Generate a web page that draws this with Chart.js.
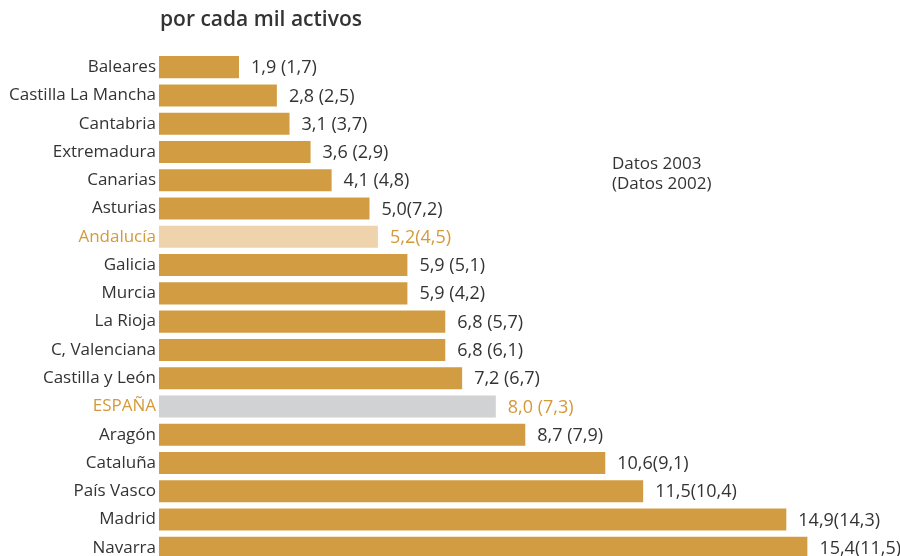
<!DOCTYPE html>
<html lang="es">
<head>
<meta charset="utf-8">
<title>por cada mil activos</title>
<script src="https://cdn.jsdelivr.net/npm/chart.js@4/dist/chart.umd.min.js"></script>
<style>
  html, body { margin: 0; padding: 0; background: #ffffff; overflow: hidden; }
  #wrap { position: relative; width: 900px; height: 562px; }
</style>
</head>
<body>
<div id="wrap"><canvas id="chart" width="900" height="562"></canvas></div>
<script>
// Regiones ordenadas de menor a mayor
const regiones = [
  "Baleares", "Castilla La Mancha", "Cantabria", "Extremadura", "Canarias",
  "Asturias", "Andalucía", "Galicia", "Murcia", "La Rioja", "C, Valenciana",
  "Castilla y León", "ESPAÑA", "Aragón", "Cataluña", "País Vasco", "Madrid", "Navarra"
];
// Datos 2003
const datos2003 = [1.9, 2.8, 3.1, 3.6, 4.1, 5.0, 5.2, 5.9, 5.9, 6.8, 6.8, 7.2, 8.0, 8.7, 10.6, 11.5, 14.9, 15.4];
// Datos 2002 (entre paréntesis)
const datos2002 = [1.7, 2.5, 3.7, 2.9, 4.8, 7.2, 4.5, 5.1, 4.2, 5.7, 6.1, 6.7, 7.3, 7.9, 9.1, 10.4, 14.3, 11.5];
// Etiquetas de valor tal como se imprimen
const etiquetas = [
  "1,9 (1,7)", "2,8 (2,5)", "3,1 (3,7)", "3,6 (2,9)", "4,1 (4,8)", "5,0(7,2)",
  "5,2(4,5)", "5,9 (5,1)", "5,9 (4,2)", "6,8 (5,7)", "6,8 (6,1)", "7,2 (6,7)",
  "8,0 (7,3)", "8,7 (7,9)", "10,6(9,1)", "11,5(10,4)", "14,9(14,3)", "15,4(11,5)"
];
const titulo = "por cada mil activos";
const leyenda = ["Datos 2003", "(Datos 2002)"];

const ORO = "#D29D42";
const ORO_TEXTO = "#D39A3A";
const ORO_CLARO = "#EFD3AC";
const GRIS = "#D1D2D4";
const TEXTO = "#333333";
const FUENTE = "'Open Sans', 'Noto Sans', sans-serif";

function colorBarra(i) {
  if (regiones[i] === "Andalucía") return ORO_CLARO;
  if (regiones[i] === "ESPAÑA") return GRIS;
  return ORO;
}
function colorTexto(i) {
  if (regiones[i] === "Andalucía" || regiones[i] === "ESPAÑA") return ORO_TEXTO;
  return TEXTO;
}

// Título, nota de años y etiquetas de valor
const anotaciones = {
  id: "anotaciones",
  afterDatasetsDraw(chart) {
    const ctx = chart.ctx;
    const area = chart.chartArea;
    ctx.save();
    ctx.textBaseline = "middle";
    ctx.textAlign = "left";

    ctx.fillStyle = TEXTO;
    ctx.font = "600 21px " + FUENTE;
    ctx.fillText(titulo, area.left + 1, 20);

    ctx.font = "17px " + FUENTE;
    ctx.fillText(leyenda[0], 612, 164);
    ctx.fillText(leyenda[1], 612, 184);

    ctx.font = "18px " + FUENTE;
    const meta = chart.getDatasetMeta(0);
    meta.data.forEach((bar, i) => {
      ctx.fillStyle = colorTexto(i);
      ctx.fillText(etiquetas[i], bar.x + 12, bar.y + 1);
    });
    ctx.restore();
  }
};

new Chart(document.getElementById("chart"), {
  type: "bar",
  data: {
    labels: regiones,
    datasets: [{
      label: "Datos 2003",
      data: datos2003,
      backgroundColor: regiones.map((_, i) => colorBarra(i)),
      borderWidth: 0,
      categoryPercentage: 1,
      barPercentage: 0.78
    }]
  },
  options: {
    indexAxis: "y",
    responsive: false,
    animation: false,
    layout: { padding: { top: 53, right: 0, bottom: 0, left: 0 } },
    plugins: {
      legend: { display: false },
      title: { display: false },
      tooltip: { enabled: false }
    },
    scales: {
      x: { display: false, min: 0, max: 17.6 },
      y: {
        grid: { display: false, drawTicks: false },
        border: { display: false },
        afterFit(scale) {
          scale.width = 159;
          scale.paddingTop = 0;
          scale.paddingBottom = 0;
        },
        ticks: {
          autoSkip: false,
          padding: 3,
          font: { family: FUENTE, size: 17 },
          color: (c) => colorTexto(c.index)
        }
      }
    }
  },
  plugins: [anotaciones]
});
</script>
</body>
</html>
